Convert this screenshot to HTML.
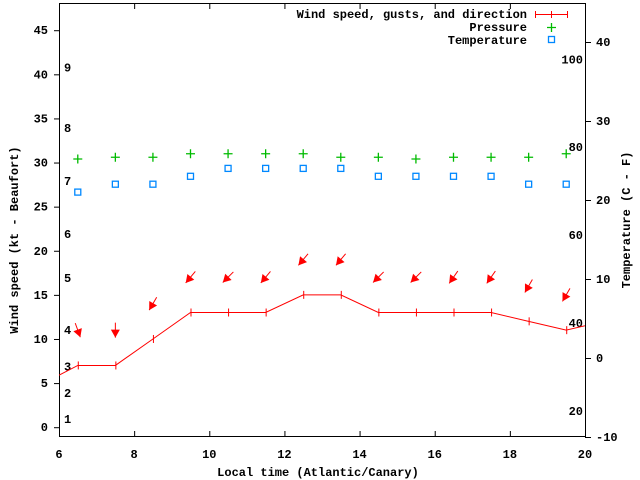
<!DOCTYPE html>
<html><head><meta charset="utf-8"><style>
body{margin:0;background:#fff}
svg{display:block;font-family:"Liberation Mono","DejaVu Sans Mono",monospace;font-size:12px;font-weight:bold}
</style></head><body>
<svg id="chart" width="640" height="480" viewBox="0 0 640 480" xmlns="http://www.w3.org/2000/svg">
<g id="frame" stroke="#000" fill="none">
<path d="M59.5 3.5H585.5V436.5H59.5Z"/>
</g>
<g id="grid"></g>
<g id="marks"></g>
<text x="318" y="476" text-anchor="middle">Local time (Atlantic/Canary)</text>
<text transform="translate(18,240) rotate(-90)" text-anchor="middle">Wind speed (kt - Beaufort)</text>
<text transform="translate(630,220) rotate(-90)" text-anchor="middle">Temperature (C - F)</text>
<g>
<text x="527" y="18" text-anchor="end">Wind speed, gusts, and direction</text>
<path d="M535.5 14.5H567.5M535.5 11V18M567.5 11V18M551.5 11V18" stroke="#f00"/>
<text x="527" y="31" text-anchor="end">Pressure</text>
<path d="M547 27.5H556M551.5 23V32" stroke="#0b0" stroke-width="1.3"/>
<text x="527" y="44" text-anchor="end">Temperature</text>
<rect x="548.5" y="36.5" width="6" height="6" fill="none" stroke="#08f" stroke-width="1.3"/>
</g>
</svg>
<script>
const hours=[5.5,6.5,7.5,8.5,9.5,10.5,11.5,12.5,13.5,14.5,15.5,16.5,17.5,18.5,19.5,20.5];
const windKt=[4.8,7,7,10,13,13,13,15,15,13,13,13,13,12,11,12];
const markerHours=[6.5,7.5,8.5,9.5,10.5,11.5,12.5,13.5,14.5,15.5,16.5,17.5,18.5,19.5];
const windDirDeg=[340,0,30,40,45,40,40,40,45,45,35,35,30,30];
const pressure=[30.4,30.6,30.6,31.0,31.0,31.0,31.0,30.6,30.6,30.4,30.6,30.6,30.6,31.0];
const tempC=[21,22,22,23,24,24,24,24,23,23,23,23,22,22];
const xTicks=[6,8,10,12,14,16,18,20];
const yTicks=[0,5,10,15,20,25,30,35,40,45];
const y2Ticks=[-10,0,10,20,30,40];
const beaufortLabels=["1","2","3","4","5","6","7","8","9"];
const beaufortKt=[0.94,3.9,6.9,11,16.9,21.9,27.9,33.9,40.8];
const fahrLabels=["100","80","60","40","20"];
const fahrC=[37.8,26.7,15.6,4.4,-6.7];
const NS="http://www.w3.org/2000/svg";
const X=h=>59+(h-6)*(526/14);
const Y=v=>427.2-v*8.822;
const Y2=c=>358-c*7.9;
function mk(t,a,p){const e=document.createElementNS(NS,t);for(const k in a)e.setAttribute(k,a[k]);p.appendChild(e);return e;}
const g=document.getElementById('grid'),m=document.getElementById('marks');
xTicks.forEach(h=>{
 const t=mk('path',{d:`M${X(h)+.5} 436V431M${X(h)+.5} 4V9`,stroke:'#000'},g);
 
 
 const l=mk('text',{x:X(h),y:458,'text-anchor':'middle'},g);l.textContent=h;
 
 
});
yTicks.forEach(v=>{
 const t=mk('path',{d:`M54 ${Y(v)+.5}H59`,stroke:'#000'},g);
 
 
 const l=mk('text',{x:48,y:Y(v)+4,'text-anchor':'end'},g);l.textContent=v;
 
 
});
y2Ticks.forEach(c=>{
 const t=mk('path',{d:`M585 ${Y2(c)+.5}H591`,stroke:'#000'},g);
 
 
 const l=mk('text',{x:596,y:Y2(c)+4},g);l.textContent=c;
 
 
});
beaufortLabels.forEach((s,i)=>{
 const l=mk('text',{x:64,y:Y(beaufortKt[i])+4},g);l.textContent=s;
 
 
});
fahrLabels.forEach((s,i)=>{
 const l=mk('text',{x:583,y:Y2(fahrC[i])+4,'text-anchor':'end'},g);l.textContent=s;
 
 
});
mk('clipPath',{id:'clip'},m).appendChild(document.createElementNS(NS,'rect'));
const cr=m.querySelector('#clip rect');cr.setAttribute('x',59);cr.setAttribute('y',4);cr.setAttribute('width',526);cr.setAttribute('height',432);
const lineG=mk('g',{'clip-path':'url(#clip)'},m);
const pl=mk('polyline',{points:hours.map((h,i)=>X(h)+','+Y(windKt[i])).join(' '),fill:'none',stroke:'#f00'},lineG);


hours.forEach((h,i)=>{
 const t=mk('path',{d:`M${X(h)+.5} ${Y(windKt[i])-4}V${Y(windKt[i])+4}`,stroke:'#f00'},lineG);
 
 
});
markerHours.forEach((h,i)=>{
 const x=X(h),idx=hours.indexOf(h),cy=Y(windKt[idx]+4);
 const a=windDirDeg[i]*Math.PI/180,dx=-Math.sin(a),dy=Math.cos(a);
 const hx=x+dx*7.5,hy=cy+dy*7.5,tx=x-dx*7.5,ty=cy-dy*7.5;
 const px=-dy,py=dx;
 const ag=mk('g',{},m);
 
 
 mk('line',{x1:tx,y1:ty,x2:hx,y2:hy,stroke:'#f00'},ag);
 const bx=hx-dx*8,by=hy-dy*8;
 mk('polygon',{points:`${hx},${hy} ${bx+px*4.5},${by+py*4.5} ${bx-px*4.5},${by-py*4.5}`,fill:'#f00'},ag);
 const p=mk('path',{d:`M${x-4.5} ${Y(pressure[i])}H${x+4.5}M${x} ${Y(pressure[i])-4.5}V${Y(pressure[i])+4.5}`,stroke:'#0b0','stroke-width':1.3},m);
 
 
 const r=mk('rect',{x:x-3,y:Y2(tempC[i])-3,width:6,height:6,fill:'none',stroke:'#08f','stroke-width':1.3},m);
 
 
});
</script>
</body></html>
